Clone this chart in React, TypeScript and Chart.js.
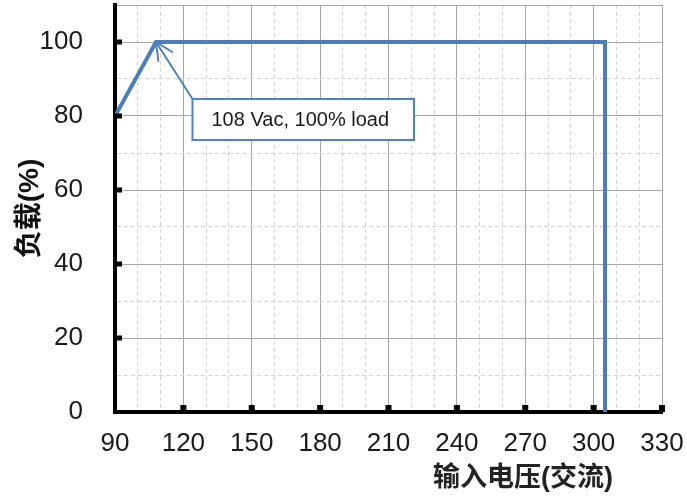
import { useEffect, useRef } from "react";
import { Chart, registerables } from "chart.js";

Chart.register(...registerables);

// ---- data ----
const inputVoltage = [90, 108, 305, 305];
const loadPercent = [80, 100, 100, 0];
const xMin = 90;
const xMax = 330;
const xMajorStep = 30;
const xMinorStep = 10;
const yMin = 0;
const yMax = 110;
const yMajorStep = 20;
const yMinorStep = 10;
const yLabelMax = 100;
const annotationText = "108 Vac, 100% load";
const annotationTarget = [108, 100];
const annotationBoxAnchor = [124, 84.6]; // top-left of the callout box, in data units
const yTitle = "负载(%)";
const xTitle = "输入电压(交流)";

const LINE_BLUE = "#4a7ebb";
const CALLOUT_BLUE = "#4f81bd";
const FONT = "'Liberation Sans', Arial, 'Noto Sans CJK SC', sans-serif";

const isMajor = (v: number, step: number) => Math.abs(v % step) < 1e-6;

const decorPlugin = {
  id: "decor",
  afterDatasetsDraw(chart: any) {
    const { ctx, chartArea, scales } = chart;
    const xs = scales.x;
    const ys = scales.y;
    ctx.save();
    // inward tick marks
    ctx.fillStyle = "#000";
    xs.ticks.forEach((t: any) => {
      if (isMajor(t.value, xMajorStep) && t.value > xMin) {
        const px = xs.getPixelForValue(t.value);
        ctx.fillRect(px - 3, chartArea.bottom - 7, 6, 7);
      }
    });
    ys.ticks.forEach((t: any) => {
      if (isMajor(t.value, yMajorStep) && t.value > yMin && t.value <= yLabelMax) {
        const py = ys.getPixelForValue(t.value);
        ctx.fillRect(chartArea.left, py - 2.5, 7, 5);
      }
    });

    // callout
    const tx = xs.getPixelForValue(annotationTarget[0]);
    const ty = ys.getPixelForValue(annotationTarget[1]);
    const bx = xs.getPixelForValue(annotationBoxAnchor[0]);
    const by = ys.getPixelForValue(annotationBoxAnchor[1]);
    ctx.font = "20px " + FONT;
    const tw = ctx.measureText(annotationText).width;
    const padL = 19;
    const padR = 25;
    const bw = tw + padL + padR;
    const bh = 41;

    ctx.strokeStyle = CALLOUT_BLUE;
    ctx.lineWidth = 2;
    ctx.beginPath();
    ctx.moveTo(bx, by);
    ctx.lineTo(tx, ty);
    ctx.stroke();
    // open arrow head
    const ang = Math.atan2(by - ty, bx - tx);
    const hl = 20;
    const spread = 0.45;
    ctx.beginPath();
    ctx.moveTo(tx + hl * Math.cos(ang - spread), ty + hl * Math.sin(ang - spread));
    ctx.lineTo(tx, ty);
    ctx.lineTo(tx + hl * Math.cos(ang + spread), ty + hl * Math.sin(ang + spread));
    ctx.stroke();

    ctx.fillStyle = "#ffffff";
    ctx.fillRect(bx, by, bw, bh);
    ctx.strokeRect(bx, by, bw, bh);
    ctx.fillStyle = "#1a1a1a";
    ctx.textAlign = "left";
    ctx.textBaseline = "middle";
    ctx.fillText(annotationText, bx + padL, by + bh / 2 + 1);

    // x-axis title
    ctx.font = "bold 27px " + FONT;
    ctx.fillStyle = "#222";
    ctx.textAlign = "right";
    ctx.textBaseline = "middle";
    ctx.fillText(xTitle, chartArea.right - 49, chartArea.bottom + 67);
    ctx.restore();
  },
};

export default function App() {
  const ref = useRef<HTMLCanvasElement | null>(null);

  useEffect(() => {
    document.body.style.margin = "0";
    if (!ref.current) return;
    const points = inputVoltage.map((x, i) => ({ x, y: loadPercent[i] }));
    const chart = new Chart(ref.current, {
      type: "line",
      data: {
        datasets: [
          {
            data: points,
            borderColor: LINE_BLUE,
            backgroundColor: LINE_BLUE,
            borderWidth: 4,
            pointRadius: 0,
            tension: 0,
            fill: false,
            borderJoinStyle: "miter",
          },
        ],
      },
      options: {
        animation: false,
        responsive: true,
        maintainAspectRatio: false,
        layout: { padding: { top: 5, right: 25, left: 0, bottom: 0 } },
        plugins: {
          legend: { display: false },
          tooltip: { enabled: false },
        },
        scales: {
          x: {
            type: "linear",
            min: xMin,
            max: xMax,
            afterFit: (s: any) => {
              s.height = 92;
              s.paddingLeft = 0;
              s.paddingRight = 0;
              s.paddingTop = 0;
              s.paddingBottom = 0;
            },
            ticks: {
              stepSize: xMinorStep,
              autoSkip: false,
              maxRotation: 0,
              padding: 16,
              color: "#1a1a1a",
              font: { family: FONT, size: 26 },
              callback: (v: any) => (isMajor(Number(v), xMajorStep) ? String(v) : ""),
            },
            grid: {
              drawTicks: false,
              lineWidth: 1,
              color: (c: any) =>
                c.tick && isMajor(c.tick.value, xMajorStep) ? "#a6a6a6" : "#d4d4d4",
            },
            border: {
              display: true,
              color: "#000",
              width: 4,
              dash: (c: any) =>
                c.tick && !isMajor(c.tick.value, xMajorStep) ? [4, 3] : [],
            },
          },
          y: {
            type: "linear",
            min: yMin,
            max: yMax,
            afterFit: (s: any) => {
              s.width = 115;
              s.paddingLeft = 0;
              s.paddingRight = 0;
              s.paddingTop = 0;
              s.paddingBottom = 0;
            },
            title: {
              display: true,
              text: yTitle,
              color: "#111",
              font: { family: FONT, size: 28, weight: "bold" },
              padding: { top: 13, bottom: 0 },
            },
            ticks: {
              stepSize: yMinorStep,
              autoSkip: false,
              padding: 32,
              color: "#1a1a1a",
              font: { family: FONT, size: 26 },
              callback: (v: any) =>
                isMajor(Number(v), yMajorStep) && Number(v) <= yLabelMax ? String(v) : "",
            },
            grid: {
              drawTicks: false,
              lineWidth: 1,
              color: (c: any) =>
                c.tick && (isMajor(c.tick.value, yMajorStep) || c.tick.value === yMax)
                  ? "#a6a6a6"
                  : "#d4d4d4",
            },
            border: {
              display: true,
              color: "#000",
              width: 4,
              dash: (c: any) =>
                c.tick && !(isMajor(c.tick.value, yMajorStep) || c.tick.value === yMax)
                  ? [4, 3]
                  : [],
            },
          },
        },
      },
      plugins: [decorPlugin],
    });
    return () => chart.destroy();
  }, []);

  return (
    <div style={{ position: "fixed", left: 0, top: 0, width: 687, height: 504, background: "#fff" }}>
      <canvas ref={ref} />
    </div>
  );
}
